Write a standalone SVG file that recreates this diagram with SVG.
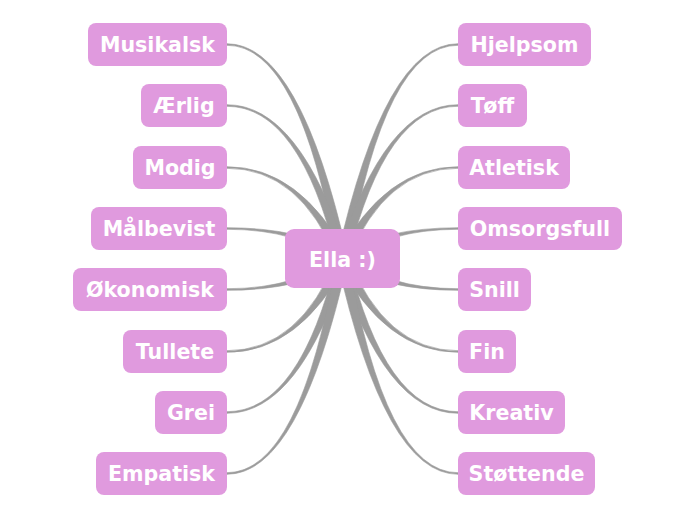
<svg xmlns="http://www.w3.org/2000/svg" xmlns:xlink="http://www.w3.org/1999/xlink" width="696" height="520" viewBox="0 0 696 520">
<style>
.box{fill:#e09ade;}
.lbl{font-family:"DejaVu Sans",Verdana,sans-serif;font-weight:bold;font-size:20.6px;fill:#ffffff;text-anchor:middle;}
.conn path{fill:#9b9b9b;stroke:#9b9b9b;stroke-width:0.6;}
</style>
<rect width="696" height="520" fill="#ffffff"/>
<g id="connectors" class="conn">
<g id="left-conn">
<path d="M227,43.7 Q300,43.7 347.9,257.4 L337.1,259.6 Q300,45.3 227,45.3 Z"/>
<path d="M227,104.7 Q300,104.7 347.8,257.0 L337.2,260.0 Q300,106.3 227,106.3 Z"/>
<path d="M227,166.7 Q300,166.7 347.5,256.2 L337.5,260.8 Q300,168.3 227,168.3 Z"/>
<path d="M227,227.7 Q300,227.7 345.7,254.0 L339.3,263.0 Q300,229.3 227,229.3 Z"/>
<path d="M227,288.7 Q300,288.7 339.3,254.1 L345.7,262.9 Q300,290.3 227,290.3 Z"/>
<path d="M227,350.7 Q300,350.7 337.5,256.2 L347.5,260.8 Q300,352.3 227,352.3 Z"/>
<path d="M227,411.7 Q300,411.7 337.2,257.0 L347.8,260.0 Q300,413.3 227,413.3 Z"/>
<path d="M227,472.7 Q300,472.7 337.1,257.4 L347.9,259.6 Q300,474.3 227,474.3 Z"/>
</g>
<use xlink:href="#left-conn" href="#left-conn" transform="matrix(-1 0 0 1 685 0)"/>
</g>
<g id="n-center"><rect class="box" x="285" y="229" width="115" height="59" rx="9"/><text class="lbl" x="342.5" y="266.5">Ella :)</text></g>
<g id="n-musikalsk"><rect class="box" x="88" y="23" width="139" height="43" rx="8"/><text class="lbl" x="157.5" y="52">Musikalsk</text></g>
<g id="n-aerlig"><rect class="box" x="141" y="84" width="86" height="43" rx="8"/><text class="lbl" x="184" y="113">Ærlig</text></g>
<g id="n-modig"><rect class="box" x="133" y="146" width="94" height="43" rx="8"/><text class="lbl" x="180" y="175">Modig</text></g>
<g id="n-malbevist"><rect class="box" x="91" y="207" width="136" height="43" rx="8"/><text class="lbl" x="159" y="236">Målbevist</text></g>
<g id="n-okonomisk"><rect class="box" x="73" y="268" width="154" height="43" rx="8"/><text class="lbl" x="150" y="297">Økonomisk</text></g>
<g id="n-tullete"><rect class="box" x="123" y="330" width="104" height="43" rx="8"/><text class="lbl" x="175" y="359">Tullete</text></g>
<g id="n-grei"><rect class="box" x="155" y="391" width="72" height="43" rx="8"/><text class="lbl" x="191" y="420">Grei</text></g>
<g id="n-empatisk"><rect class="box" x="96" y="452" width="131" height="43" rx="8"/><text class="lbl" x="161.5" y="481">Empatisk</text></g>
<g id="n-hjelpsom"><rect class="box" x="458" y="23" width="133" height="43" rx="8"/><text class="lbl" x="524.5" y="52">Hjelpsom</text></g>
<g id="n-toff"><rect class="box" x="458" y="84" width="69" height="43" rx="8"/><text class="lbl" x="492.5" y="113">Tøff</text></g>
<g id="n-atletisk"><rect class="box" x="458" y="146" width="112" height="43" rx="8"/><text class="lbl" x="514" y="175">Atletisk</text></g>
<g id="n-omsorgsfull"><rect class="box" x="458" y="207" width="164" height="43" rx="8"/><text class="lbl" x="540" y="236">Omsorgsfull</text></g>
<g id="n-snill"><rect class="box" x="458" y="268" width="73" height="43" rx="8"/><text class="lbl" x="494.5" y="297">Snill</text></g>
<g id="n-fin"><rect class="box" x="458" y="330" width="58" height="43" rx="8"/><text class="lbl" x="487" y="359">Fin</text></g>
<g id="n-kreativ"><rect class="box" x="458" y="391" width="107" height="43" rx="8"/><text class="lbl" x="511.5" y="420">Kreativ</text></g>
<g id="n-stottende"><rect class="box" x="458" y="452" width="137" height="43" rx="8"/><text class="lbl" x="526.5" y="481">Støttende</text></g>
</svg>
